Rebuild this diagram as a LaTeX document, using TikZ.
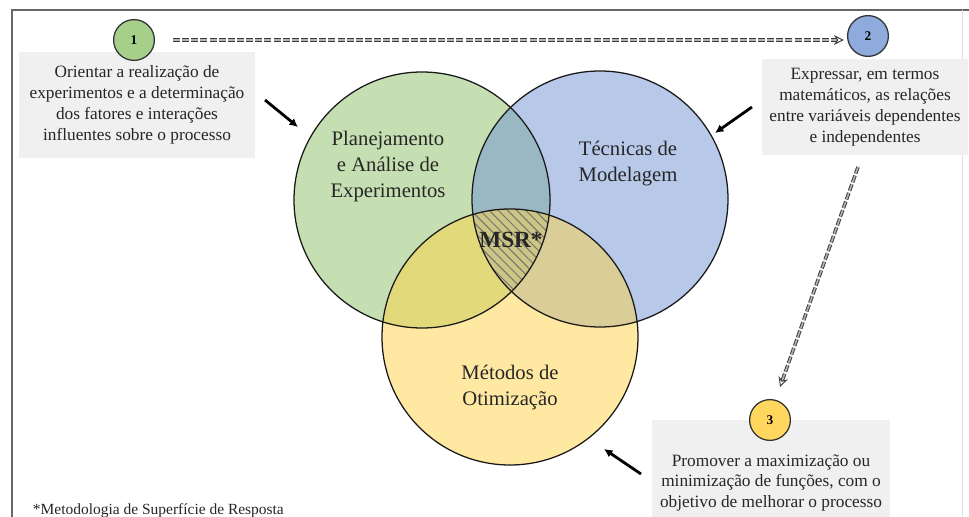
\documentclass[tikz,border=0pt]{standalone}
\usepackage{fontspec}
\setmainfont{Liberation Serif}
\usetikzlibrary{arrows.meta,positioning,patterns.meta}
\definecolor{vgreen}{RGB}{140,192,102}
\definecolor{vblue}{RGB}{112,146,212}
\definecolor{vyellow}{RGB}{255,210,70}
\definecolor{ngreen}{RGB}{166,208,138}
\definecolor{nblue}{RGB}{143,170,220}
\definecolor{nyellow}{RGB}{255,215,95}
\tikzset{venn/.style={circle,minimum size=6.4cm,inner sep=0pt,fill opacity=.5},
 ring/.style={draw=black!90,line width=.9pt},
 num/.style={circle,draw=black!80,line width=.9pt,minimum size=1.02cm,inner sep=0pt,font=\fontsize{9.5}{11}\selectfont\bfseries},
 box/.style={fill=black!6,align=center,inner sep=0pt,font=\fontsize{12.3}{14.9}\selectfont,text=black!85},
 lab/.style={align=center,font=\fontsize{14.7}{18.5}\selectfont,text=black!85},
 seta/.style={-{Latex[length=6pt,width=6pt]},line width=2pt},
 dseta/.style={-{Stealth[open,length=7pt,width=7pt]},draw=black!75,double=black!30,double distance=1.1pt,line width=.7pt,dash pattern=on 5pt off 1.5pt}}
\begin{document}
\begin{tikzpicture}[x=0.025cm,y=-0.025cm]
\useasboundingbox (0,0) rectangle (969,517);
\draw[black!60,line width=1.4pt](969,10)--(12,10)--(12,517);
\draw[black!12,line width=.4pt](962,10)--(962,517);
\node[box,minimum width=5.875cm,minimum height=2.625cm](b1) at (137,105){Orientar a realização de\\experimentos e a determinação\\dos fatores e interações\\influentes sobre o processo};
\node[box,minimum width=5.125cm,minimum height=2.375cm](b2) at (865,107){Expressar, em termos\\matemáticos, as relações\\entre variáveis dependentes\\e independentes};
\node[box,minimum width=5.95cm,minimum height=3.15cm](b3) at (771,483){Promover a maximização ou\\minimização de funções, com o\\objetivo de melhorar o processo};
\node[num,fill=ngreen](n1) at (134,40){1};
\node[num,fill=nblue](n2) at (868,36){2};
\node[num,fill=nyellow](n3) at (770,420){3};
\node[venn,fill=vgreen](pae) at (422,200){};
\node[venn,fill=vblue](tm) at (600,199){};
\node[venn,fill=vyellow](mo) at (510,337){};
\begin{scope}
\clip (pae.center) circle (128);\clip (tm.center) circle (128);
\fill[pattern={Lines[angle=-45,distance=4.6pt,line width=.7pt]},pattern color=black!55] (mo.center) circle (128);
\end{scope}
\foreach \c in {pae,tm,mo}{\draw[ring] (\c.center) circle (128);}
\node[lab](lpae) at (388,167){Planejamento\\e Análise de\\Experimentos};
\node[lab](ltm) at (628,164){Técnicas de\\Modelagem};
\node[lab](lmo) at (510,388){Métodos de\\Otimização};
\node[lab,font=\fontsize{16.5}{18.5}\selectfont\bfseries](msr) at (511,240){MSR*};
\coordinate (a1s) at (265,100);\coordinate (a1e) at (298,127);
\coordinate (a2s) at (752,107);\coordinate (a2e) at (715,133);
\coordinate (a3s) at (641,474);\coordinate (a3e) at (604,449);
\draw[seta](a1s)--(a1e);\draw[seta](a2s)--(a2e);\draw[seta](a3s)--(a3e);
\draw[dseta]([xshift=.45cm]n1.east)--([xshift=-.08cm]n1.east -| n2.west);
\coordinate (d2) at (858,167);\coordinate (d3) at (780,387);
\draw[dseta](d2)--(d3);
\node[anchor=base west,font=\fontsize{11}{13}\selectfont,text=black!85](nota) at (28,515){*Metodologia de Superfície de Resposta};
\end{tikzpicture}
\end{document}
